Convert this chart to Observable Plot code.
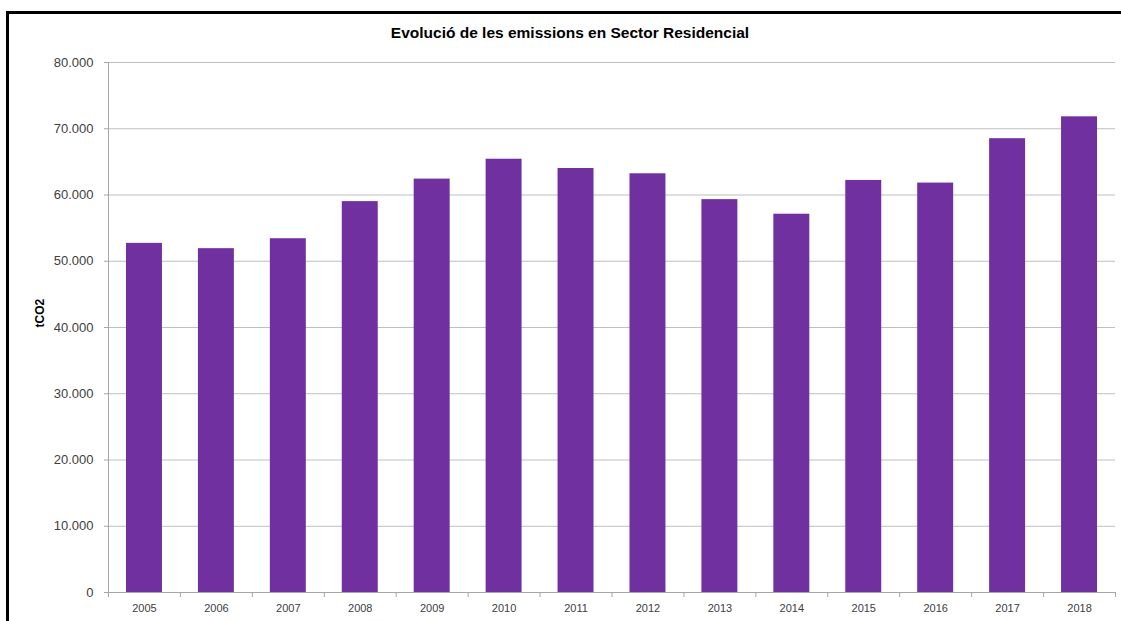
<!DOCTYPE html>
<html>
<head>
<meta charset="utf-8">
<script src="https://cdn.jsdelivr.net/npm/d3@7"></script>
<script src="https://cdn.jsdelivr.net/npm/@observablehq/plot@0.6"></script>
<style>
  html, body { margin: 0; padding: 0; background: #fff; }
  #wrap { position: relative; width: 1121px; height: 621px; overflow: hidden; background: #fff; }
  #chart { position: absolute; left: 0; top: 0; }
  #frame { position: absolute; left: 6px; top: 11px; width: 1200px; height: 700px;
           border-left: 3px solid #000; border-top: 3px solid #000; pointer-events: none; }
  #title { position: absolute; left: 0; top: 25px; width: 1140px; text-align: center;
           font: bold 15.5px "Liberation Sans", Arial, sans-serif; line-height: 16px; color: #000; }
</style>
</head>
<body>
<div id="wrap">
  <div id="chart"></div>
  <div id="frame"></div>
  <div id="title">Evolució de les emissions en Sector Residencial</div>
</div>
<script>
const years = ["2005","2006","2007","2008","2009","2010","2011","2012","2013","2014","2015","2016","2017","2018"];
const emissions = [52700, 51900, 53400, 59000, 62400, 65400, 64000, 63200, 59300, 57100, 62200, 61800, 68500, 71800];
const yTicks = [0, 10000, 20000, 30000, 40000, 50000, 60000, 70000, 80000];
const yLabel = "tCO2";

const data = years.map((year, i) => ({year, value: emissions[i]}));
const fmt = d3.formatLocale({decimal: ",", thousands: ".", grouping: [3]}).format(",");

const W = 1121, H = 621, mL = 108, mR = 6, mT = 62, mB = 29;
const step = (W - mL - mR) / years.length;

const chart = Plot.plot({
  width: W, height: H,
  marginLeft: mL, marginRight: mR, marginTop: mT, marginBottom: mB,
  style: {fontFamily: "'Liberation Sans', Arial, sans-serif", background: "transparent"},
  x: {domain: years, paddingInner: 0.5, paddingOuter: 0.25, round: false},
  y: {domain: [0, 80000]},
  marks: [
    Plot.gridY(yTicks, {stroke: "#bfbfbf", strokeOpacity: 1}),
    Plot.barY(data, {x: "year", y: "value", fill: "#7030A0"}),
    Plot.ruleY([0], {stroke: "#a6a6a6"}),
    // left axis line
    Plot.ruleX([years[0]], {x: d => d, dx: -step / 2, stroke: "#a6a6a6"}),
    // category boundary ticks
    Plot.ruleX(years, {x: d => d, dx: -step / 2, y1: 0, y2: 0, insetBottom: -5, stroke: "#a6a6a6"}),
    Plot.ruleX([years[years.length - 1]], {x: d => d, dx: step / 2, y1: 0, y2: 0, insetBottom: -5, stroke: "#a6a6a6"}),
    Plot.axisY(yTicks, {tickSize: 4, tickPadding: 11, stroke: "#a6a6a6", color: "#404040", fontSize: 13,
      tickFormat: d => fmt(d), label: null}),
    Plot.axisX({tickSize: 0, tickPadding: 12, fontSize: 11, color: "#404040", label: null}),
    Plot.text([yLabel], {frameAnchor: "left", rotate: -90, dx: -68, fontWeight: "bold", fontSize: 12, fill: "#000", text: d => d})
  ]
});
document.getElementById("chart").appendChild(chart);
</script>
</body>
</html>
